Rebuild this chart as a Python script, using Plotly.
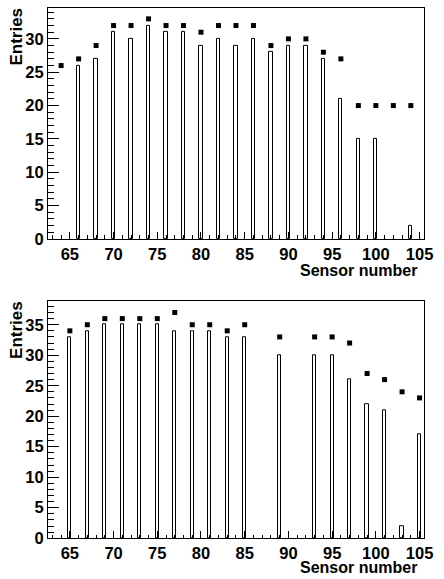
import plotly.graph_objects as go

# Upper panel: even-numbered sensors
top_bar_x = [66, 68, 70, 72, 74, 76, 78, 80, 82, 84, 86, 88, 90, 92, 94, 96, 98, 100, 104]
top_bar_y = [26, 27, 31, 30, 32, 31, 31, 29, 30, 29, 30, 28, 29, 29, 27, 21, 15, 15, 2]
top_pt_x = [64, 66, 68, 70, 72, 74, 76, 78, 80, 82, 84, 86, 88, 90, 92, 94, 96, 98, 100, 102, 104]
top_pt_y = [26, 27, 29, 32, 32, 33, 32, 32, 31, 32, 32, 32, 29, 30, 30, 28, 27, 20, 20, 20, 20]

# Lower panel: odd-numbered sensors
bot_bar_x = [65, 67, 69, 71, 73, 75, 77, 79, 81, 83, 85, 89, 93, 95, 97, 99, 101, 103, 105]
bot_bar_y = [33, 34, 35, 35, 35, 35, 34, 34, 34, 33, 33, 30, 30, 30, 26, 22, 21, 2, 17]
bot_pt_x = [65, 67, 69, 71, 73, 75, 77, 79, 81, 83, 85, 89, 93, 95, 97, 99, 101, 103, 105]
bot_pt_y = [34, 35, 36, 36, 36, 36, 37, 35, 35, 34, 35, 33, 33, 33, 32, 27, 26, 24, 23]

x_ticks = [65, 70, 75, 80, 85, 90, 95, 100, 105]

W, H = 444, 579
FONT = "Liberation Sans"

fig = go.Figure()

def add_panel(bx, by, px, py, xa, ya):
    fig.add_trace(go.Bar(
        x=bx, y=by, width=0.37, xaxis=xa, yaxis=ya,
        marker=dict(color="white", line=dict(color="black", width=1)),
        showlegend=False, hoverinfo="x+y",
    ))
    fig.add_trace(go.Scatter(
        x=px, y=py, mode="markers", xaxis=xa, yaxis=ya,
        marker=dict(symbol="square", size=5, color="black", line=dict(width=0)),
        showlegend=False, cliponaxis=False,
    ))

add_panel(top_bar_x, top_bar_y, top_pt_x, top_pt_y, "x", "y")
add_panel(bot_bar_x, bot_bar_y, bot_pt_x, bot_pt_y, "x2", "y2")

x_dom = [49 / W, 432.7 / W]
top_dom = [1 - 242.7 / H, 1 - 8 / H]
bot_dom = [1 - 546.7 / H, 1 - 306 / H]

tickfont = dict(family=FONT, size=16.5, color="black", weight="bold")

def xaxis_cfg(anchor):
    return dict(
        domain=x_dom, anchor=anchor, range=[62.5, 105.5],
        tickvals=x_ticks, ticks="inside", ticklen=7, tickwidth=1, tickcolor="black",
        minor=dict(dtick=1, tick0=0, ticks="inside", ticklen=3.5, tickwidth=1, tickcolor="black"),
        showline=True, linecolor="black", linewidth=1, mirror=True,
        showgrid=False, zeroline=False, tickfont=tickfont,
    )

def yaxis_cfg(dom, top, anchor):
    return dict(
        domain=dom, anchor=anchor, range=[0, top],
        dtick=5, tick0=0, ticks="inside", ticklen=11, tickwidth=1, tickcolor="black",
        minor=dict(dtick=1, tick0=0, ticks="inside", ticklen=5.5, tickwidth=1, tickcolor="black"),
        showline=True, linecolor="black", linewidth=1, mirror=True,
        showgrid=False, zeroline=False, tickfont=tickfont,
    )

titlefont = dict(family=FONT, size=16, color="black", weight="bold")
entfont = dict(family=FONT, size=17, color="black", weight="bold")

annotations = [
    dict(text="Entries", textangle=-90, x=17 / W, y=1 - 6 / H, xref="paper", yref="paper",
         xanchor="center", yanchor="top", showarrow=False, font=entfont),
    dict(text="Entries", textangle=-90, x=17 / W, y=1 - 304 / H, xref="paper", yref="paper",
         xanchor="center", yanchor="top", showarrow=False, font=entfont),
    dict(text="Sensor number", x=428 / W, y=1 - 264 / H, xref="paper", yref="paper",
         xanchor="right", yanchor="top", showarrow=False, font=titlefont),
    dict(text="Sensor number", x=428 / W, y=1 - 566 / H, xref="paper", yref="paper",
         xanchor="right", yanchor="top", showarrow=False, font=titlefont),
]

fig.update_layout(
    width=W, height=H, margin=dict(l=0, r=0, t=0, b=0),
    paper_bgcolor="white", plot_bgcolor="white",
    xaxis=xaxis_cfg("y"), yaxis=yaxis_cfg(top_dom, 34.65, "x"),
    xaxis2=xaxis_cfg("y2"), yaxis2=yaxis_cfg(bot_dom, 38.85, "x2"),
    bargap=0, annotations=annotations,
)

fig.write_html("out.html")
